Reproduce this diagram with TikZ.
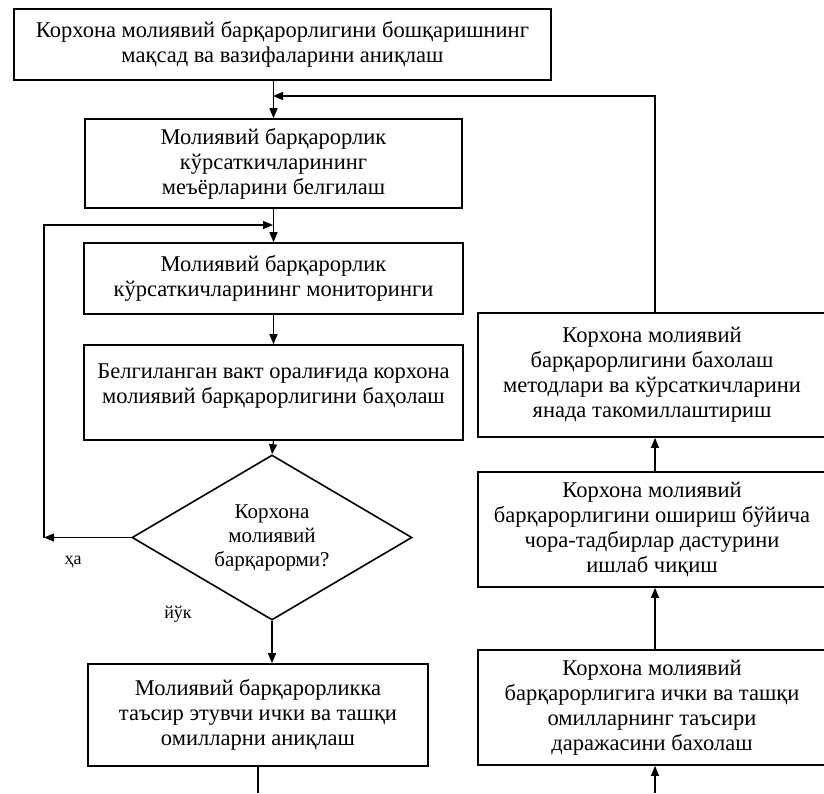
\documentclass[tikz,border=0pt]{standalone}
\usepackage{fontspec}
\setmainfont{Liberation Serif}
\usetikzlibrary{arrows.meta,shapes.geometric}
\tikzset{
  box/.style={draw=black, line width=1.6pt, rectangle, inner sep=0pt, align=center,
    font=\fontsize{22.5}{25}\selectfont},
  dia/.style={draw=black, line width=1.6pt, diamond, aspect=1.7, inner sep=0pt, align=center,
    font=\fontsize{21}{24}\selectfont},
  arr/.style={line width=1.3pt, -{Triangle[length=10pt,width=8pt]}},
  ln/.style={line width=1.3pt},
  lbl/.style={font=\fontsize{18}{20}\selectfont, inner sep=0pt}
}
\begin{document}
\begin{tikzpicture}[x=1pt,y=-1pt]
\useasboundingbox (0,0) rectangle (824,793);
% left column
\node[box, minimum width=537, minimum height=71] (top) at (282.5,44.5)
  {Корхона молиявий барқарорлигини бошқаришнинг\\мақсад ва вазифаларини аниқлаш};
\node[box, minimum width=377, minimum height=89] (norm) at (273.5,163.5)
  {Молиявий барқарорлик\\кўрсаткичларининг\\меъёрларини белгилаш};
\node[box, minimum width=379, minimum height=71] (mon) at (273.5,278.5)
  {Молиявий барқарорлик\\кўрсаткичларининг мониторинги};
\node[box, minimum width=379, minimum height=95, text depth=17pt] (eval) at (273.5,392.5)
  {Белгиланган вакт оралиғида корхона\\молиявий барқарорлигини баҳолаш};
\node[dia, minimum width=280, minimum height=165] (dec) at (272,537.5)
  {Корхона\\молиявий\\барқарорми?};
\node[box, minimum width=340, minimum height=102] (fact) at (258,715)
  {Молиявий барқарорликка\\таъсир этувчи ички ва ташқи\\омилларни аниқлаш};
% right column
\node[box, minimum width=348, minimum height=124] (impr) at (652,375)
  {Корхона молиявий\\барқарорлигини бахолаш\\методлари ва кўрсаткичларини\\янада такомиллаштириш};
\node[box, minimum width=348, minimum height=115] (prog) at (652,529.5)
  {Корхона молиявий\\барқарорлигини ошириш бўйича\\чора-тадбирлар дастурини\\ишлаб чиқиш};
\node[box, minimum width=348, minimum height=115] (infl) at (652,707.5)
  {Корхона молиявий\\барқарорлигига ички ва ташқи\\омилларнинг таъсири\\даражасини бахолаш};
% labels
\node[lbl] (yes) at (73,562) {ҳа};
\node[lbl] (no) at (178,614) {йўк};
% helper coordinates
\coordinate (fb) at (273,96);
\coordinate (lc1) at (44,537.5);
\coordinate (lc2) at (44,225);
\coordinate (lc3) at (273,225);
\coordinate (botL) at (258,793);
\coordinate (botR) at (655,793);
% connectors
\draw[arr] (norm.north |- top.south) -- (norm.north);
\draw[arr] (impr.north -| botR) -- (botR |- fb) -- (fb);
\draw[arr] (norm.south) -- (mon.north);
\draw[arr] (mon.south) -- (eval.north);
\draw[arr] (eval.south) -- (dec.north);
\draw[arr] (dec.west) -- (lc1);
\draw[arr] (lc1) -- (lc2) -- (lc3);
\draw[arr] (dec.south) -- (dec.south |- fact.north);
\draw[ln] (fact.south) -- (botL);
\draw[arr] (botR) -- (botR |- infl.south);
\draw[arr] (botR |- infl.north) -- (botR |- prog.south);
\draw[arr] (botR |- prog.north) -- (botR |- impr.south);
\end{tikzpicture}
\end{document}
